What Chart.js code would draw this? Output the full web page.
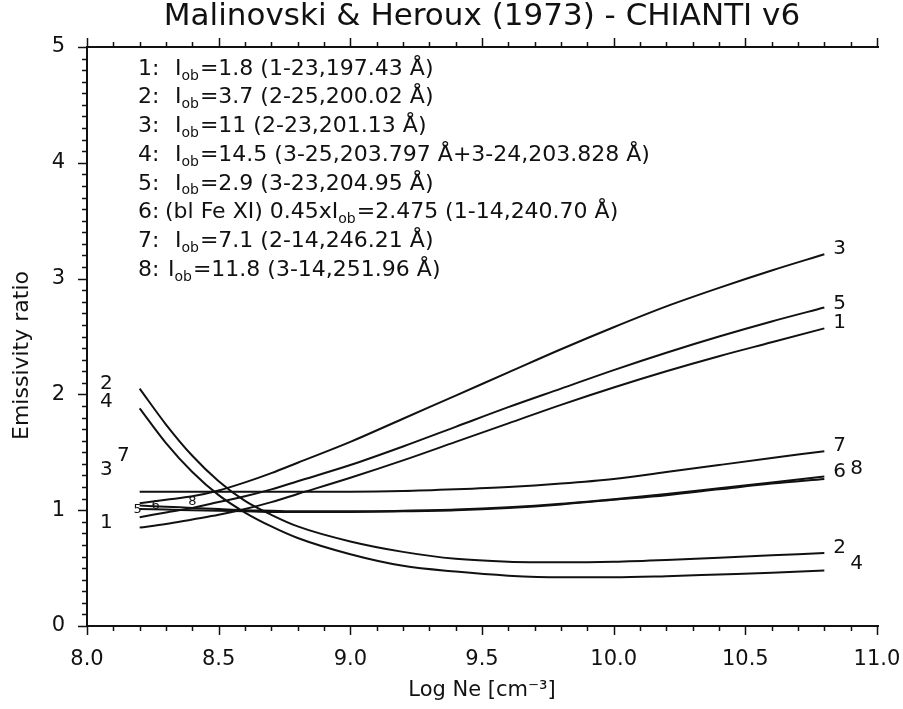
<!DOCTYPE html>
<html>
<head>
<meta charset="utf-8">
<script src="https://cdn.jsdelivr.net/npm/chart.js@4"></script>
<style>
  html, body { margin: 0; padding: 0; background: #fff; }
  #wrap { width: 903px; height: 709px; position: relative; }
</style>
</head>
<body>
<div id="wrap"><canvas id="c" width="903" height="709"></canvas></div>
<script>
// ---------- data ----------
const logNe  = [8.2, 8.3, 8.4, 8.5, 8.6, 8.7, 8.8, 9.0, 9.2, 9.4, 9.6, 9.8, 10.0, 10.2, 10.4, 10.6, 10.8];
const ratio1 = [0.85, 0.88, 0.92, 0.96, 1.01, 1.07, 1.14, 1.28, 1.43, 1.59, 1.75, 1.91, 2.06, 2.20, 2.33, 2.45, 2.57];
const ratio2 = [2.05, 1.74, 1.47, 1.25, 1.08, 0.96, 0.86, 0.73, 0.64, 0.58, 0.555, 0.55, 0.555, 0.57, 0.59, 0.61, 0.63];
const ratio3 = [1.06, 1.09, 1.12, 1.17, 1.24, 1.32, 1.41, 1.59, 1.79, 1.99, 2.19, 2.39, 2.58, 2.76, 2.92, 3.07, 3.21];
const ratio4 = [1.88, 1.58, 1.33, 1.13, 0.98, 0.86, 0.76, 0.62, 0.52, 0.47, 0.435, 0.42, 0.42, 0.43, 0.445, 0.46, 0.48];
const ratio5 = [0.94, 0.98, 1.02, 1.07, 1.12, 1.18, 1.25, 1.39, 1.55, 1.72, 1.89, 2.05, 2.21, 2.36, 2.50, 2.63, 2.75];
const ratio6 = [1.01, 1.005, 1.00, 0.995, 0.99, 0.985, 0.985, 0.985, 0.99, 1.00, 1.02, 1.05, 1.09, 1.13, 1.18, 1.23, 1.27];
const ratio7 = [1.16, 1.16, 1.16, 1.16, 1.16, 1.16, 1.16, 1.16, 1.165, 1.18, 1.20, 1.23, 1.27, 1.33, 1.39, 1.45, 1.51];
const ratio8 = [1.04, 1.03, 1.02, 1.01, 1.00, 0.995, 0.99, 0.99, 0.995, 1.005, 1.025, 1.055, 1.095, 1.14, 1.19, 1.24, 1.29];
const seriesNames = ['1', '2', '3', '4', '5', '6', '7', '8'];
const xTicks = [8.0, 8.5, 9.0, 9.5, 10.0, 10.5, 11.0];
const yTicks = [0, 1, 2, 3, 4, 5];
const titleText = 'Malinovski & Heroux (1973) - CHIANTI v6';
const xTitle = 'Log Ne [cm\u207B\u00B3]';
const yTitle = 'Emissivity ratio';
const legendNums = ['1:', '2:', '3:', '4:', '5:', '6:', '7:', '8:'];
const legendPre  = ['', '', '', '', '', '(bl Fe XI) 0.45x', '', ''];
const legendPost = ['=1.8 (1-23,197.43 \u00C5)', '=3.7 (2-25,200.02 \u00C5)', '=11 (2-23,201.13 \u00C5)',
  '=14.5 (3-25,203.797 \u00C5+3-24,203.828 \u00C5)', '=2.9 (3-23,204.95 \u00C5)',
  '=2.475 (1-14,240.70 \u00C5)', '=7.1 (2-14,246.21 \u00C5)', '=11.8 (3-14,251.96 \u00C5)'];

const allRatios = [ratio1, ratio2, ratio3, ratio4, ratio5, ratio6, ratio7, ratio8];

// ---------- styles ----------
const FONT = "'DejaVu Sans', 'Liberation Sans', sans-serif";
const INK = '#111';

// curve labels: series index, point index, pixel offsets, alignment, size
const curveLabels = [
  // right ends
  { s: 2, i: -1, dx: 9,  dy: -5, align: 'left', size: 20 },
  { s: 4, i: -1, dx: 9,  dy: -4, align: 'left', size: 20 },
  { s: 0, i: -1, dx: 9,  dy: -6, align: 'left', size: 20 },
  { s: 6, i: -1, dx: 9,  dy: -5, align: 'left', size: 20 },
  { s: 5, i: -1, dx: 9,  dy: -7, align: 'left', size: 20 },
  { s: 7, i: -1, dx: 26, dy: -8, align: 'left', size: 20 },
  { s: 1, i: -1, dx: 9,  dy: -5, align: 'left', size: 20 },
  { s: 3, i: -1, dx: 26, dy: -7, align: 'left', size: 20 },
  // left starts
  { s: 1, i: 0, dx: -27, dy: -5,  align: 'right', size: 20 },
  { s: 3, i: 0, dx: -27, dy: -6,  align: 'right', size: 20 },
  { s: 2, i: 0, dx: -27, dy: -33, align: 'right', size: 20 },
  { s: 6, i: 0, dx: -10, dy: -36, align: 'right', size: 20 },
  { s: 0, i: 0, dx: -27, dy: -5,  align: 'right', size: 20 },
  // small in-plot labels
  { s: 4, i: 0, dx: -2,  dy: -8,  align: 'center', size: 13 },
  { s: 5, i: 0, dx: 16,  dy: -3,  align: 'center', size: 13 },
  { s: 7, i: 2, dx: 0,   dy: -6,  align: 'center', size: 13 }
];

const framePlugin = {
  id: 'frame',
  afterDraw(chart) {
    const { ctx, chartArea: a, scales: { x, y } } = chart;
    ctx.save();
    ctx.strokeStyle = INK;
    ctx.lineWidth = 2;
    ctx.beginPath();
    ctx.moveTo(a.left, a.top); ctx.lineTo(a.left, a.bottom);
    ctx.moveTo(a.left - 1, a.bottom); ctx.lineTo(a.right + 2, a.bottom);
    ctx.moveTo(a.left - 1, a.top); ctx.lineTo(a.right + 2, a.top);
    ctx.stroke();
    ctx.lineWidth = 1.5;
    ctx.beginPath();
    const xMin = x.min, xMax = x.max;
    const nx = Math.round((xMax - xMin) / 0.1);
    for (let k = 0; k <= nx; k++) {
      const v = xMin + k * 0.1;
      const px = Math.round(x.getPixelForValue(v)) + 0.5;
      const L = (k % 5 === 0) ? 9 : 5;
      ctx.moveTo(px, a.top); ctx.lineTo(px, a.top - L);
      ctx.moveTo(px, a.bottom); ctx.lineTo(px, a.bottom + L);
    }
    const ny = Math.round((y.max - y.min) / 0.1);
    for (let k = 0; k <= ny; k++) {
      const v = y.min + k * 0.1;
      const py = Math.round(y.getPixelForValue(v)) + 0.5;
      const L = (k % 10 === 0) ? 9 : 5;
      ctx.moveTo(a.left, py); ctx.lineTo(a.left - L, py);
    }
    ctx.stroke();

    // y axis title
    ctx.fillStyle = INK;
    ctx.font = `22px ${FONT}`;
    ctx.textAlign = 'center';
    ctx.textBaseline = 'middle';
    ctx.save();
    ctx.translate(22, (a.top + a.bottom) / 2 + 19);
    ctx.rotate(-Math.PI / 2);
    ctx.fillText(yTitle, 0, 0);
    ctx.restore();

    // legend text block
    const lx = a.left + 51;
    for (let k = 0; k < legendNums.length; k++) {
      const ly = a.top + 22 + k * 28.7;
      ctx.textAlign = 'left';
      ctx.textBaseline = 'middle';
      ctx.font = `22px ${FONT}`;
      ctx.fillText(legendNums[k], lx, ly);
      let cx = legendPre[k] ? lx + 27 : (k === 7 ? lx + 30 : lx + 37);
      if (legendPre[k]) { ctx.fillText(legendPre[k], cx, ly); cx += ctx.measureText(legendPre[k]).width; }
      ctx.fillText('I', cx, ly); cx += ctx.measureText('I').width;
      ctx.font = `14px ${FONT}`;
      ctx.fillText('ob', cx, ly + 7); cx += ctx.measureText('ob').width + 1;
      ctx.font = `22px ${FONT}`;
      ctx.fillText(legendPost[k], cx, ly);
    }

    // curve labels
    ctx.textBaseline = 'middle';
    for (const lb of curveLabels) {
      const arr = allRatios[lb.s];
      const idx = lb.i < 0 ? arr.length + lb.i : lb.i;
      const px = x.getPixelForValue(logNe[idx]);
      const py = y.getPixelForValue(arr[idx]);
      ctx.font = `${lb.size}px ${FONT}`;
      ctx.textAlign = lb.align;
      ctx.fillText(seriesNames[lb.s], px + lb.dx, py + lb.dy);
    }
    ctx.restore();
  }
};

const datasets = allRatios.map((arr, s) => ({
  label: seriesNames[s],
  data: logNe.map((v, i) => ({ x: v, y: arr[i] })),
  borderColor: INK,
  borderWidth: 2,
  pointRadius: 0,
  fill: false,
  cubicInterpolationMode: 'monotone'
}));

new Chart(document.getElementById('c'), {
  type: 'line',
  data: { datasets },
  plugins: [framePlugin],
  options: {
    responsive: false,
    devicePixelRatio: 1,
    animation: false,
    layout: { padding: { left: 0, right: 26, top: 0, bottom: 0 } },
    plugins: {
      legend: { display: false },
      tooltip: { enabled: false },
      title: {
        display: true,
        fullSize: false,
        text: titleText,
        color: INK,
        font: { family: FONT, size: 31, weight: 'normal', lineHeight: 1.0 },
        padding: { top: 1, bottom: 15 }
      }
    },
    scales: {
      x: {
        type: 'linear',
        min: 8, max: 11,
        afterBuildTicks: (sc) => { sc.ticks = xTicks.map(v => ({ value: v })); },
        afterFit: (sc) => { sc.height = 83; sc.paddingLeft = 0; sc.paddingRight = 0; },
        grid: { display: false, drawTicks: false },
        border: { display: false },
        ticks: {
          color: INK, padding: 21,
          font: { family: FONT, size: 21 },
          maxRotation: 0,
          callback: (v) => Number(v).toFixed(1)
        },
        title: {
          display: true, text: xTitle, color: INK,
          font: { family: FONT, size: 21 },
          padding: { top: 0, bottom: 6 }
        }
      },
      y: {
        type: 'linear',
        min: 0, max: 5,
        afterBuildTicks: (sc) => { sc.ticks = yTicks.map(v => ({ value: v })); },
        afterFit: (sc) => { sc.width = 87; sc.paddingTop = 0; sc.paddingBottom = 0; },
        grid: { display: false, drawTicks: false },
        border: { display: false },
        ticks: {
          color: INK, padding: 22,
          font: { family: FONT, size: 21 },
          callback: (v) => String(v)
        }
      }
    }
  }
});
</script>
</body>
</html>
